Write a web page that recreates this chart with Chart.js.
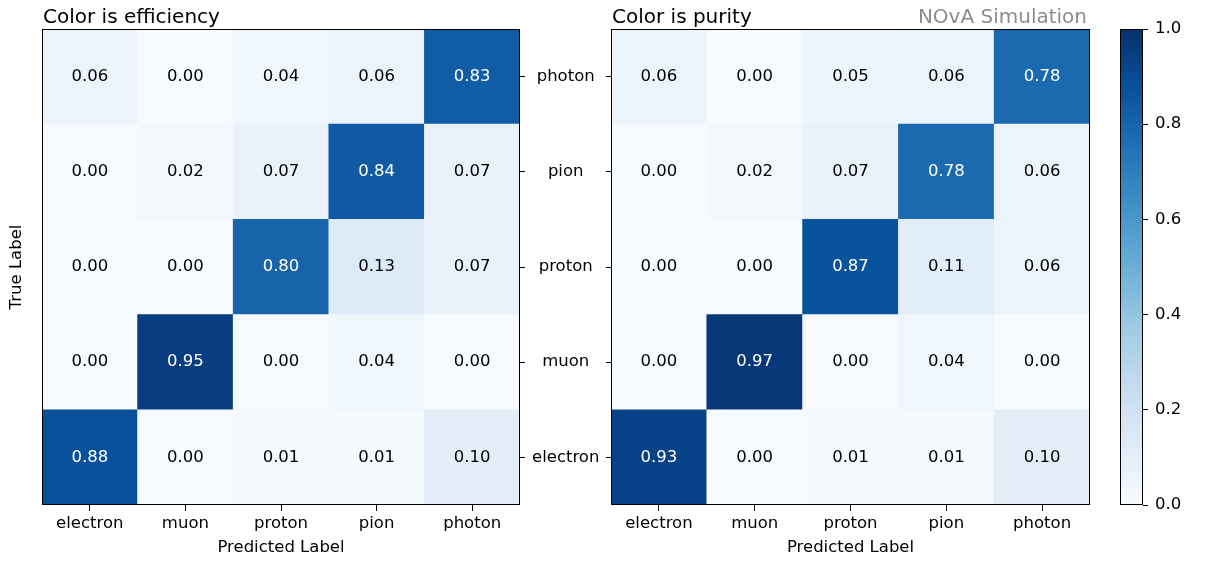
<!DOCTYPE html>
<html>
<head>
<meta charset="utf-8">
<script src="https://cdn.jsdelivr.net/npm/chart.js@4/dist/chart.umd.min.js"></script>
<style>
  html, body { margin: 0; padding: 0; background: #fff; }
  #wrap { position: relative; width: 1211px; height: 561px; }
  #wrap canvas { position: absolute; left: 0; top: 0; }
</style>
</head>
<body>
<div id="wrap">
  <canvas id="eff" width="1211" height="561"></canvas>
  <canvas id="pur" width="1211" height="561"></canvas>
  <canvas id="cbar" width="1211" height="561"></canvas>
</div>
<script>
// Particle classes: predicted (columns) and true (rows, bottom to top)
const predictedLabels = ['electron', 'muon', 'proton', 'pion', 'photon'];
const trueLabels = ['electron', 'muon', 'proton', 'pion', 'photon'];

// Efficiency matrix, one array per true class (columns follow predictedLabels)
const effElectron = [0.88, 0.00, 0.01, 0.01, 0.10];
const effMuon     = [0.00, 0.95, 0.00, 0.04, 0.00];
const effProton   = [0.00, 0.00, 0.80, 0.13, 0.07];
const effPion     = [0.00, 0.02, 0.07, 0.84, 0.07];
const effPhoton   = [0.06, 0.00, 0.04, 0.06, 0.83];

// Purity matrix
const purElectron = [0.93, 0.00, 0.01, 0.01, 0.10];
const purMuon     = [0.00, 0.97, 0.00, 0.04, 0.00];
const purProton   = [0.00, 0.00, 0.87, 0.11, 0.06];
const purPion     = [0.00, 0.02, 0.07, 0.78, 0.06];
const purPhoton   = [0.06, 0.00, 0.05, 0.06, 0.78];

// Colour bar ticks
const colorbarTicks = [0.0, 0.2, 0.4, 0.6, 0.8, 1.0];

const effRows = [effElectron, effMuon, effProton, effPion, effPhoton];
const purRows = [purElectron, purMuon, purProton, purPion, purPhoton];

// Sequential "Blues" colour map
const BLUES = ['#f7fbff', '#deebf7', '#c6dbef', '#9ecae1', '#6baed6',
               '#4292c6', '#2171b5', '#08519c', '#08306b'];
function hexToRgb(h) {
  return [parseInt(h.slice(1, 3), 16), parseInt(h.slice(3, 5), 16), parseInt(h.slice(5, 7), 16)];
}
function blues(v) {
  const t = Math.max(0, Math.min(1, v)) * (BLUES.length - 1);
  const i = Math.min(Math.floor(t), BLUES.length - 2);
  const f = t - i;
  const a = hexToRgb(BLUES[i]), b = hexToRgb(BLUES[i + 1]);
  const c = a.map((x, k) => Math.round(x + (b[k] - x) * f));
  return `rgb(${c[0]},${c[1]},${c[2]})`;
}

const FONT = "'DejaVu Sans', sans-serif";
const FS = 16.5;
Chart.defaults.font.family = FONT;
Chart.defaults.font.size = FS;
Chart.defaults.color = '#000';

// Black frame around the plotting area
const framePlugin = {
  id: 'frame',
  afterDatasetsDraw(chart) {
    const { ctx, chartArea: a } = chart;
    ctx.save();
    ctx.strokeStyle = '#000';
    ctx.lineWidth = 1;
    ctx.strokeRect(Math.round(a.left) + 0.5, Math.round(a.top) + 0.5,
                   Math.round(a.right - a.left) - 1, Math.round(a.bottom - a.top) - 1);
    ctx.restore();
  }
};

// Value printed in the middle of every cell
const cellTextPlugin = {
  id: 'cellText',
  afterDatasetsDraw(chart) {
    const { ctx } = chart;
    ctx.save();
    ctx.font = `${FS}px ${FONT}`;
    ctx.textAlign = 'center';
    ctx.textBaseline = 'middle';
    chart.data.datasets.forEach((ds, di) => {
      const meta = chart.getDatasetMeta(di);
      meta.data.forEach((el, i) => {
        const v = ds.values[i];
        ctx.fillStyle = v > 0.5 ? '#fff' : '#000';
        ctx.fillText(v.toFixed(2), el.x, (el.y + el.base) / 2);
      });
    });
    ctx.restore();
  }
};

// Panel titles above the plotting area
const panelTitlePlugin = {
  id: 'panelTitle',
  afterDraw(chart, args, opts) {
    const { ctx, chartArea: a } = chart;
    ctx.save();
    ctx.textBaseline = 'alphabetic';
    ctx.font = `20px ${FONT}`;
    ctx.fillStyle = '#000';
    ctx.textAlign = 'left';
    ctx.fillText(opts.left || '', a.left + 1, a.top - 6);
    if (opts.right) {
      ctx.fillStyle = '#8c8c8c';
      ctx.textAlign = 'right';
      ctx.fillText(opts.right, a.right - 3, a.top - 6);
    }
    ctx.restore();
  }
};

function matrixDatasets(rows) {
  return rows.map((vals, r) => ({
    label: trueLabels[r],
    values: vals,
    data: vals.map(() => [r - 0.5, r + 0.5]),
    backgroundColor: vals.map(v => blues(v)),
    borderWidth: 0,
    barPercentage: 1,
    categoryPercentage: 1,
    grouped: false,
    yAxisID: 'y'
  }));
}

function fixWidth(w) { return scale => { scale.width = w; }; }
function fixHeight(h) { return scale => { scale.height = h; }; }
function integerTicks(scale) { scale.ticks = trueLabels.map((_, i) => ({ value: i })); }

function matrixChart(id, rows, cfg) {
  const yTick = {
    min: -0.5, max: 4.5,
    afterBuildTicks: integerTicks,
    border: { display: false },
    grid: { drawOnChartArea: false, drawTicks: true, tickLength: 5, color: '#000' }
  };
  const scales = {
    x: {
      type: 'category',
      position: 'bottom',
      offset: true,
      border: { display: false },
      grid: { display: true, drawOnChartArea: false, drawTicks: true, tickLength: 6, color: '#000', offset: false },
      ticks: { padding: 3, color: '#000', font: { size: FS } },
      title: { display: true, text: 'Predicted Label', color: '#000', font: { size: FS }, padding: { top: 0, bottom: 3 } },
      afterFit: fixHeight(56)
    },
    y: Object.assign({}, yTick, {
      type: 'linear',
      position: cfg.tickSide,
      ticks: {
        color: cfg.showLabels ? '#000' : 'rgba(0,0,0,0)',
        crossAlign: 'center',
        padding: 7,
        font: { size: FS },
        callback: v => trueLabels[v]
      },
      afterFit: fixWidth(cfg.tickWidth)
    })
  };
  if (cfg.yTitle) {
    scales.yTitle = {
      type: 'linear',
      position: 'left',
      min: -0.5, max: 4.5,
      border: { display: false },
      grid: { display: false },
      ticks: { display: false },
      title: { display: true, text: cfg.yTitle, color: '#000', font: { size: FS }, padding: { top: 7, bottom: 0 } },
      afterFit: fixWidth(cfg.titleWidth)
    };
  }
  return new Chart(document.getElementById(id), {
    type: 'bar',
    data: { labels: predictedLabels, datasets: matrixDatasets(rows) },
    options: {
      responsive: false,
      animation: false,
      layout: { padding: cfg.padding },
      plugins: {
        legend: { display: false },
        tooltip: { enabled: false },
        panelTitle: { left: cfg.title, right: cfg.note }
      },
      scales
    },
    plugins: [cellTextPlugin, framePlugin, panelTitlePlugin]
  });
}

// Efficiency panel: plot area 42..520
matrixChart('eff', effRows, {
  title: 'Color is efficiency',
  yTitle: 'True Label',
  titleWidth: 42,
  tickSide: 'right',
  tickWidth: 91,
  showLabels: true,
  padding: { left: 0, top: 29, right: 600, bottom: 0 }
});

// Purity panel: plot area 611..1090
matrixChart('pur', purRows, {
  title: 'Color is purity',
  note: 'NOvA Simulation',
  tickSide: 'left',
  tickWidth: 51,
  showLabels: false,
  padding: { left: 560, top: 29, right: 121, bottom: 0 }
});

// Colour bar: a single bar spanning 0..1 filled with the colour map
new Chart(document.getElementById('cbar'), {
  type: 'bar',
  data: {
    labels: ['scale'],
    datasets: [{
      data: [[colorbarTicks[0], colorbarTicks[colorbarTicks.length - 1]]],
      borderWidth: 0,
      barPercentage: 1,
      categoryPercentage: 1,
      backgroundColor(c) {
        const chart = c.chart;
        if (!chart.chartArea) return BLUES[0];
        const ys = chart.scales.y;
        const g = chart.ctx.createLinearGradient(0, ys.getPixelForValue(0), 0, ys.getPixelForValue(1));
        BLUES.forEach((col, i) => g.addColorStop(i / (BLUES.length - 1), col));
        return g;
      }
    }]
  },
  options: {
    responsive: false,
    animation: false,
    layout: { padding: { left: 1120, top: 29, right: 0, bottom: 56 } },
    plugins: { legend: { display: false }, tooltip: { enabled: false } },
    scales: {
      x: { display: false },
      y: {
        type: 'linear',
        position: 'right',
        min: 0, max: 1,
        afterBuildTicks: s => { s.ticks = colorbarTicks.map(v => ({ value: v })); },
        border: { display: false },
        grid: { drawOnChartArea: false, drawTicks: true, tickLength: 5, color: '#000' },
        ticks: { padding: 7, color: '#000', font: { size: FS }, callback: v => Number(v).toFixed(1) },
        afterFit: fixWidth(68)
      }
    }
  },
  plugins: [framePlugin]
});
</script>
</body>
</html>
